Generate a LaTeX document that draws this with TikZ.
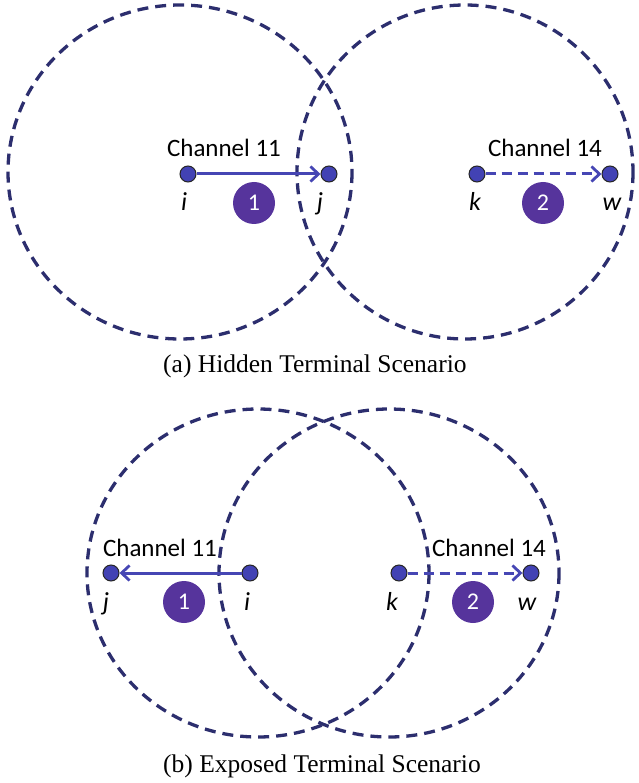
\documentclass[tikz,border=0pt]{standalone}
\usepackage{fontspec}
\setmainfont{Liberation Serif}
\newfontfamily\calibri{Carlito}
\usetikzlibrary{arrows.meta}

\definecolor{ringblue}{RGB}{44,46,110}
\definecolor{linkblue}{RGB}{70,70,180}
\definecolor{dotblue}{RGB}{66,66,180}
\definecolor{badgepurple}{RGB}{86,52,156}

\tikzset{
  radioring/.style={draw=ringblue, line width=3.3pt, dash pattern=on 11pt off 7pt},
  station/.style={circle, fill=dotblue, draw=black!85, line width=1pt,
    minimum size=16pt, inner sep=0pt},
  badge/.style={circle, fill=badgepurple, minimum size=42pt, inner sep=0pt,
    text=white, font=\calibri\fontsize{24}{24}\selectfont},
  chan/.style={anchor=base, inner sep=0pt, font=\calibri\fontsize{25}{25}\selectfont},
  lbl/.style={anchor=base, inner sep=0pt, font=\calibri\itshape\fontsize{26}{26}\selectfont},
  caption/.style={anchor=base west, inner sep=0pt, font=\fontsize{25.5}{25.5}\selectfont},
  link/.style={draw=linkblue, line width=3pt,
    -{Straight Barb[length=8pt,width=15pt,line width=2.8pt]}},
  dashlink/.style={link, dash pattern=on 10pt off 6pt},
}

\begin{document}
\begin{tikzpicture}[x=1pt, y=-1pt]
\useasboundingbox (0,0) rectangle (638,783);

% ---------- (a) hidden terminal ----------
\draw[radioring] (180,172) ellipse [x radius=172, y radius=167];
\draw[radioring] (465,172) ellipse [x radius=168, y radius=167];

\node[station] (ai) at (188,174) {};
\node[station] (aj) at (329,174) {};
\node[station] (ak) at (477,174) {};
\node[station] (aw) at (610,174) {};

\draw[link] (ai) -- (aj);
\draw[dashlink] (ak) -- (aw);

\node[chan] (ach11) at (224,157) {Channel 11};
\node[chan] (ach14) at (545,157) {Channel 14};

\node[lbl] (ali) at (184,211) {i};
\node[lbl] (alj) at (320,211) {j};
\node[lbl] (alk) at (475,211) {k};
\node[lbl] (alw) at (612,211) {w};

\node[badge] (ab1) at (254,203) {1};
\node[badge] (ab2) at (543,203) {2};

\node[caption] (capa) at (163,372) {(a) Hidden Terminal Scenario};

% ---------- (b) exposed terminal ----------
\draw[radioring] (258,573) ellipse [x radius=171, y radius=164];
\draw[radioring] (389,573) ellipse [x radius=170, y radius=164];

\node[station] (bj) at (111,573) {};
\node[station] (bi) at (250,573) {};
\node[station] (bk) at (399,573) {};
\node[station] (bw) at (531,573) {};

\draw[link] (bi) -- (bj);
\draw[dashlink] (bk) -- (bw);

\node[chan] (bch11) at (160,556) {Channel 11};
\node[chan] (bch14) at (489,556) {Channel 14};

\node[lbl] (blj) at (106,610) {j};
\node[lbl] (bli) at (247,610) {i};
\node[lbl] (blk) at (392,610) {k};
\node[lbl] (blw) at (527,610) {w};

\node[badge] (bb1) at (184,602) {1};
\node[badge] (bb2) at (473,602) {2};

\node[caption] (capb) at (163,772) {(b) Exposed Terminal Scenario};
\end{tikzpicture}
\end{document}
